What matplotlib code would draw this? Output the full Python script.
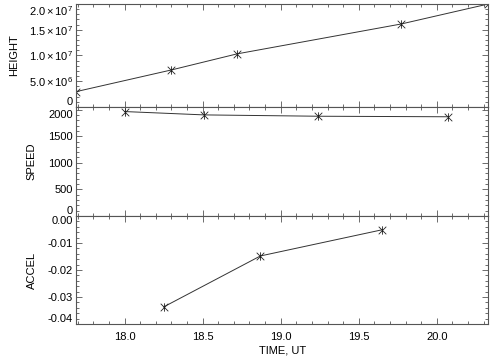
import numpy as np
import matplotlib
matplotlib.use("Agg")
from matplotlib import pyplot as plt
from matplotlib.path import Path
from matplotlib.ticker import MultipleLocator, FuncFormatter

plt.rcParams['font.family'] = ['Liberation Sans', 'DejaVu Sans']
plt.rcParams['mathtext.fontset'] = 'custom'
plt.rcParams['mathtext.rm'] = 'Liberation Sans'
plt.rcParams['mathtext.it'] = 'Liberation Sans'

# data
t_height = [17.69, 18.30, 18.72, 19.77, 20.33]
height = [2.97e6, 7.18e6, 1.03e7, 1.61e7, 2.0e7]

t_speed = [18.00, 18.51, 19.24, 20.07]
speed = [1963, 1900, 1875, 1865]

t_accel = [18.25, 18.87, 19.65]
accel = [-0.0337, -0.0148, -0.0051]

height_ticks = [0, 5e6, 1e7, 1.5e7, 2e7]
speed_ticks = [0, 500, 1000, 1500, 2000]
accel_ticks = [-0.04, -0.03, -0.02, -0.01, 0.0]

xmin, xmax = 17.69, 20.33
fs = 8
col = '#333333'

# IDL psym=2 style asterisk: an X with a vertical stroke
star = Path([(-1, -1), (1, 1), (-1, 1), (1, -1), (0, -1.1), (0, 1.1)],
            [Path.MOVETO, Path.LINETO, Path.MOVETO, Path.LINETO, Path.MOVETO, Path.LINETO])


def sci(v, pos):
    if v == 0:
        return '0'
    e = int(np.floor(np.log10(abs(v))))
    m = v / 10**e
    return r'$\mathregular{%.1f\times10^{%d}}$' % (m, e)


fig = plt.figure(figsize=[5.04, 3.6], dpi=100)
left, width = 0.151, 0.818
ax1 = fig.add_axes([left, 0.703, width, 0.286])
ax2 = fig.add_axes([left, 0.400, width, 0.303], sharex=ax1)
ax3 = fig.add_axes([left, 0.100, width, 0.300], sharex=ax1)

for ax, t, v in [(ax1, t_height, height), (ax2, t_speed, speed), (ax3, t_accel, accel)]:
    ax.plot(t, v, color=col, lw=0.7, marker=star, ms=6, mew=0.6, mec='#222222', mfc='none')
    ax.set_xlim(xmin, xmax)
    ax.xaxis.set_major_locator(MultipleLocator(0.5))
    ax.xaxis.set_minor_locator(MultipleLocator(0.1))
    ax.tick_params(axis='both', which='both', direction='in', top=True, right=True,
                   color='#555555', width=0.6, labelsize=fs, pad=2.5)
    ax.tick_params(which='major', length=4)
    ax.tick_params(which='minor', length=2)
    for s in ax.spines.values():
        s.set_color('#555555')
        s.set_linewidth(0.8)

ax1.set_ylim(0, 2.0e7)
ax1.set_yticks(height_ticks)
ax1.yaxis.set_minor_locator(MultipleLocator(1e6))
ax1.yaxis.set_major_formatter(FuncFormatter(sci))
ax1.tick_params(axis='x', labelbottom=False)
ax1.set_ylabel("HEIGHT", fontsize=fs)
ax1.yaxis.set_label_coords(-0.138, 0.5)

ax2.set_ylim(0, 2050)
ax2.set_yticks(speed_ticks)
ax2.yaxis.set_minor_locator(MultipleLocator(100))
ax2.tick_params(axis='x', labelbottom=False)
ax2.set_ylabel("SPEED", fontsize=fs)
ax2.yaxis.set_label_coords(-0.095, 0.5)

ax3.set_ylim(-0.04, 0.0)
ax3.set_yticks(accel_ticks)
ax3.yaxis.set_minor_locator(MultipleLocator(0.002))
ax3.yaxis.set_major_formatter(FuncFormatter(lambda v, p: '%.2f' % v if abs(v) > 1e-9 else '0.00'))
ax3.tick_params(axis='x', pad=6)
ax3.set_ylabel("ACCEL", fontsize=fs)
ax3.yaxis.set_label_coords(-0.095, 0.5)
ax3.set_xlabel("TIME, UT", fontsize=fs, labelpad=2)

# IDL-like placement: lowest label sits above its tick, highest below
fig.canvas.draw()
for ax in (ax1, ax2, ax3):
    labels = ax.get_yticklabels()
    labels[0].set_va('bottom')
    labels[-1].set_va('top')

plt.savefig('out.png', dpi=100)
